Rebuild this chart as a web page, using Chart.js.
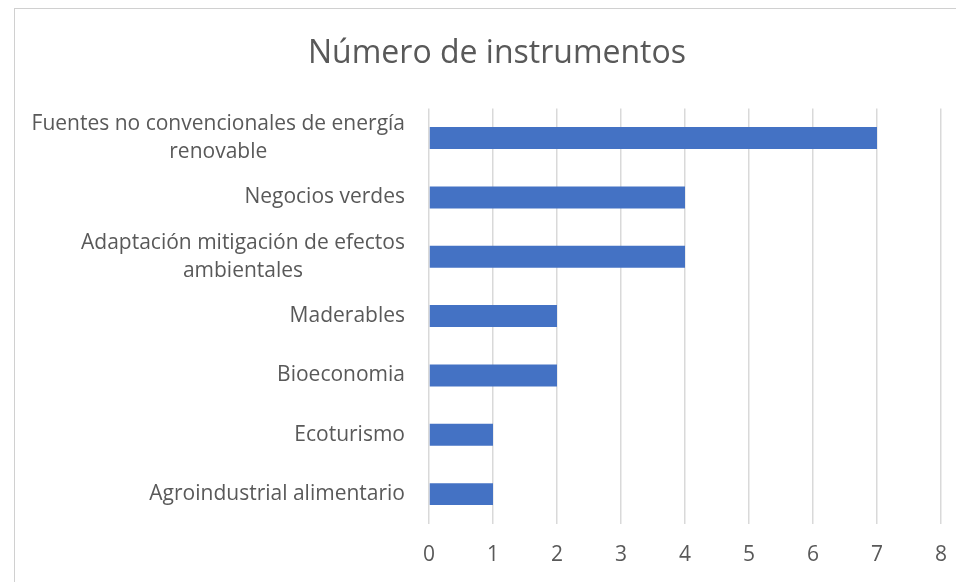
<!DOCTYPE html>
<html>
<head>
<meta charset="utf-8">
<script src="https://cdn.jsdelivr.net/npm/chart.js@4"></script>
<style>
  body { margin: 0; background: #fff; overflow: hidden; }
  #frame {
    position: absolute; left: 14px; top: 8px;
    width: 960px; height: 600px;
    border: 1px solid #d0d0d0;
  }
  #chart { display: block; }
</style>
</head>
<body>
<div id="frame">
  <canvas id="chart" width="951" height="578"></canvas>
</div>
<script>
// Datos del grafico
var categorias = [
  ["Fuentes no convencionales de energía", "renovable"],
  ["Negocios verdes"],
  ["Adaptación mitigación de efectos", "ambientales"],
  ["Maderables"],
  ["Bioeconomia"],
  ["Ecoturismo"],
  ["Agroindustrial alimentario"]
];
var instrumentos = [7, 4, 4, 2, 2, 1, 1];
var ticksX = [0, 1, 2, 3, 4, 5, 6, 7, 8];

var fuente = "'Open Sans', sans-serif";
var gris = "#595959";

// Etiquetas del eje Y: cada linea centrada, el bloque alineado a la derecha (como Excel)
var etiquetasY = {
  id: 'etiquetasY',
  afterDraw: function(chart) {
    var ctx = chart.ctx;
    var y = chart.scales.y;
    var derecha = chart.chartArea.left - 24;
    ctx.save();
    ctx.font = "21px " + fuente;
    ctx.fillStyle = gris;
    ctx.textAlign = 'center';
    ctx.textBaseline = 'middle';
    var alto = 28;
    categorias.forEach(function(lineas, i) {
      var ancho = 0;
      lineas.forEach(function(l) { ancho = Math.max(ancho, ctx.measureText(l).width); });
      var cy = y.getPixelForValue(i) - (lineas.length - 1) * alto / 2;
      lineas.forEach(function(l, k) {
        ctx.fillText(l, derecha - ancho / 2, cy + k * alto);
      });
    });
    ctx.restore();
  }
};

new Chart(document.getElementById("chart"), {
  type: 'bar',
  data: {
    labels: categorias,
    datasets: [
      {
        label: "Número de instrumentos",
        backgroundColor: "#4472C4",
        data: instrumentos,
        barPercentage: 0.37,
        categoryPercentage: 1
      }
    ]
  },
  options: {
    indexAxis: 'y',
    responsive: false,
    animation: false,
    layout: { padding: { left: 26, right: 13, top: 0, bottom: 0 } },
    plugins: {
      legend: { display: false },
      tooltip: { enabled: false },
      title: {
        display: true,
        text: 'Número de instrumentos',
        color: gris,
        font: { family: fuente, size: 32, weight: 'normal' },
        padding: { top: 26, bottom: 35 }
      }
    },
    scales: {
      x: {
        min: ticksX[0],
        max: ticksX[ticksX.length - 1],
        afterBuildTicks: function(scale) {
          scale.ticks = ticksX.map(function(v) { return { value: v }; });
        },
        grid: { color: "#d9d9d9", lineWidth: 1.5, drawTicks: false },
        border: { display: false },
        ticks: {
          color: gris,
          padding: 19,
          font: { family: fuente, size: 21 }
        }
      },
      y: {
        grid: { display: false },
        border: { display: false },
        ticks: { display: false },
        afterFit: function(scale) { scale.width = 388; }
      }
    }
  },
  plugins: [etiquetasY]
});
</script>
</body>
</html>
